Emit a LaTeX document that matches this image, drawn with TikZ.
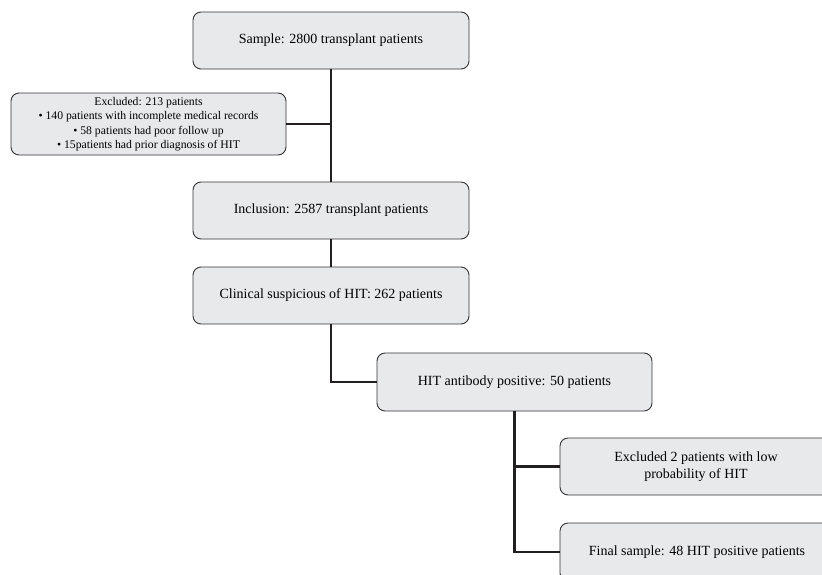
\documentclass[tikz,border=0pt]{standalone}
\usepackage{fontspec}
\setmainfont{Liberation Serif}
\definecolor{boxfill}{HTML}{E8E9EB}
\definecolor{boxline}{HTML}{333333}
\definecolor{conn}{HTML}{231F20}
\begin{document}
\begin{tikzpicture}[x=1pt,y=-1pt,
  flowbox/.style={draw=boxline, line width=0.9pt, fill=boxfill, rounded corners=8pt,
    align=center, inner sep=2pt, font=\fontsize{14}{17}\selectfont},
  link/.style={draw=conn, line width=2.9pt}]
\useasboundingbox (0,0) rectangle (822,574);
\clip (0,0) rectangle (822,574);
\node[flowbox, minimum width=276pt, minimum height=57pt] (sample) at (331,40.5) {Sample: 2800 transplant patients};
\node[flowbox, minimum width=275pt, minimum height=62pt, font=\fontsize{11.7}{14.5}\selectfont] (excl) at (148.5,124) {Excluded: 213 patients\\ • 140 patients with incomplete medical records\\ • 58 patients had poor follow up\\ • 15patients had prior diagnosis of HIT};
\node[flowbox, minimum width=276pt, minimum height=57pt] (incl) at (331,210.5) {Inclusion: 2587 transplant patients};
\node[flowbox, minimum width=276pt, minimum height=57pt] (clin) at (331,295.5) {Clinical suspicious of HIT: 262 patients};
\node[flowbox, minimum width=275pt, minimum height=58pt] (hit) at (514.5,382) {HIT antibody positive: 50 patients};
\node[flowbox, minimum width=272pt, minimum height=57pt] (excl2) at (696,466.5) {Excluded 2 patients with low\\ probability of HIT};
\node[flowbox, minimum width=274pt, minimum height=58pt] (final) at (697,552) {Final sample: 48 HIT positive patients};
\coordinate (j1) at (sample.south |- excl.east);
\draw[link] (sample.south) -- (incl.north);
\draw[link] (excl.east) -- (j1);
\draw[link] (incl.south) -- (clin.north);
\draw[link] (clin.south) |- (hit.west);
\draw[link] (hit.south) |- (final.west);
\draw[link] (hit.south |- excl2.west) -- (excl2.west);
\end{tikzpicture}
\end{document}
